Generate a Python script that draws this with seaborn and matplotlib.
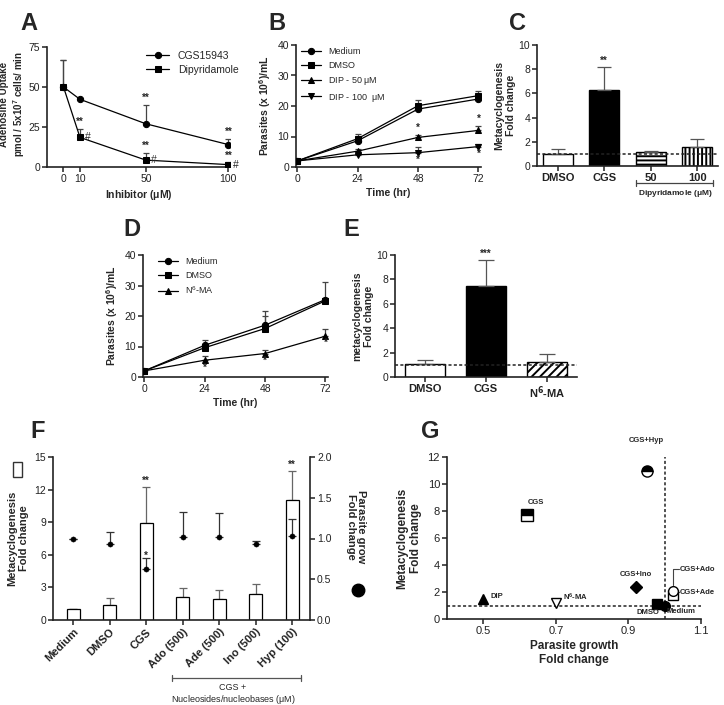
import numpy as np
import pandas as pd
import matplotlib.pyplot as plt
import seaborn as sns

# ---- data ----
# A : adenosine uptake
a_conc = [0, 10, 50, 100]
a_cgs = [50, 42.3, 27, 14]
a_cgs_sem = [17, 0, 12, 3.7]
a_dip = [50, 18.5, 4.3, 1.5]
a_dip_sem = [17, 5.5, 4.5, 1.5]

# B : growth with dipyridamole
b_time = [0, 24, 48, 72]
b_medium = [2, 8.6, 19.0, 22.3]
b_medium_sem = [0.3, 1.2, 1.0, 1.0]
b_dmso = [2, 9.3, 20.1, 23.4]
b_dmso_sem = [0.3, 1.5, 2.0, 1.6]
b_dip50 = [2, 5.2, 9.7, 12.0]
b_dip50_sem = [0.3, 0.6, 0.8, 1.5]
b_dip100 = [2, 4.0, 4.7, 6.7]
b_dip100_sem = [0.3, 0.5, 1.8, 0.8]

# C : metacyclogenesis with dipyridamole
c_cats = ["DMSO", "CGS", "50", "100"]
c_vals = [1.0, 6.3, 1.15, 1.55]
c_sem = [0.4, 1.9, 0.1, 0.65]

# D : growth with N6-MA
d_time = [0, 24, 48, 72]
d_medium = [2, 10.4, 17.0, 25.4]
d_medium_sem = [0.3, 1.6, 4.8, 5.6]
d_dmso = [2, 9.6, 15.9, 25.0]
d_dmso_sem = [0.3, 1.2, 4.1, 1.0]
d_n6 = [2, 5.5, 7.7, 13.4]
d_n6_sem = [0.3, 1.3, 1.3, 2.5]

# E : metacyclogenesis with N6-MA
e_cats = ["DMSO", "CGS", "N$^{\\mathbf{6}}$-MA"]
e_vals = [1.05, 7.45, 1.2]
e_sem = [0.35, 2.1, 0.7]

# F : rescue by nucleosides / nucleobases
f_cats = ["Medium", "DMSO", "CGS", "Ado (500)", "Ade (500)", "Ino (500)", "Hyp (100)"]
f_meta = [1.0, 1.34, 8.9, 2.08, 1.93, 2.36, 11.05]
f_meta_sem = [0, 0.7, 3.35, 0.9, 0.87, 0.96, 2.7]
f_growth = [1.0, 0.93, 0.62, 1.02, 1.02, 0.93, 1.03]
f_growth_sem = [0, 0.15, 0.14, 0.31, 0.29, 0.045, 0.21]

# G : growth vs metacyclogenesis
g_names = ["CGS+Hyp", "CGS", "CGS+Ino", "DIP", "N$^6$-MA", "DMSO", "Medium", "CGS+Ado", "CGS+Ade"]
g_growth = [0.95, 0.62, 0.92, 0.50, 0.70, 0.98, 1.00, 1.024, 1.024]
g_meta = [11.0, 7.7, 2.35, 1.5, 1.2, 1.08, 1.0, 1.75, 2.07]

# ---- style ----
sns.set_style("ticks")
plt.rcParams['font.family'] = ['Liberation Sans', 'DejaVu Sans']
plt.rcParams['hatch.linewidth'] = 1.4
plt.rcParams['axes.linewidth'] = 1.2
plt.rcParams['axes.edgecolor'] = '#222222'
plt.rcParams['mathtext.default'] = 'regular'

W, H = 724, 705
fig = plt.figure(figsize=(W / 100, H / 100), dpi=100)


def add_ax(l, t, r, b):
    return fig.add_axes([l / W, 1 - b / H, (r - l) / W, (b - t) / H])


def style(ax, size=7.5):
    sns.despine(ax=ax)
    ax.tick_params(length=3.5, width=1.1, labelsize=size, colors='#222222', pad=1.5)


def err_up(ax, x, y, sem, cap=2.5, color='#444444'):
    ax.errorbar(x, y, yerr=[np.zeros(len(sem)), sem], fmt='none', ecolor=color,
                elinewidth=0.9, capsize=cap, capthick=0.9, zorder=1)


def line(ax, x, y, marker, label, ms=4.5):
    sns.lineplot(x=x, y=y, ax=ax, color='black', lw=0.9, marker=marker, ms=ms,
                 mec='black', mfc='black', label=label, zorder=3)


def letter(x, y, s):
    fig.text(x / W, 1 - y / H, s, fontsize=17, fontweight='bold', va='top', ha='left')


def star(ax, x, y, s):
    ax.text(x, y, s, ha='center', va='bottom', fontsize=7, fontweight='bold')


bold = dict(fontweight='bold')

# ---- A ----
ax = add_ax(47, 47, 230, 167)
err_up(ax, a_conc, a_cgs, a_cgs_sem)
err_up(ax, a_conc, a_dip, a_dip_sem)
line(ax, a_conc, a_cgs, 'o', 'CGS15943')
line(ax, a_conc, a_dip, 's', 'Dipyridamole')
ax.set_xlim(-10, 101)
ax.set_ylim(0, 75)
ax.set_xticks([0, 10, 50, 100])
ax.set_yticks([0, 25, 50, 75])
style(ax)
ax.set_xlabel("Inhibitor ($\\mu$M)", fontsize=7.5, labelpad=3, **bold)
fig.text(13 / W, 1 - 104 / H, "Adenosine Uptake\npmol / 5x10$^7$ cells/ min", fontsize=7,
         rotation=90, ha='center', va='center', linespacing=1.15, **bold)
ax.legend(frameon=False, fontsize=7.5, loc='upper right', bbox_to_anchor=(1.08, 1.02),
          handlelength=2.2, labelspacing=0.4, borderaxespad=0.2)
for x, y, s in zip(a_conc[2:], a_cgs[2:], a_cgs_sem[2:]):
    star(ax, x, y + s + 1.0, "**")
for x, y, s in zip(a_conc[1:], a_dip[1:], a_dip_sem[1:]):
    star(ax, x, y + s + 1.0, "**")
    ax.text(x + 3, y, "#", ha='left', va='center', fontsize=7.5)

# ---- B ----
ax = add_ax(296, 45, 481, 167)
for v, s in [(b_medium, b_medium_sem), (b_dmso, b_dmso_sem), (b_dip50, b_dip50_sem), (b_dip100, b_dip100_sem)]:
    err_up(ax, b_time, v, s, cap=2)
line(ax, b_time, b_medium, 'o', 'Medium')
line(ax, b_time, b_dmso, 's', 'DMSO')
line(ax, b_time, b_dip50, '^', 'DIP - 50 $\\mu$M')
line(ax, b_time, b_dip100, 'v', 'DIP - 100  $\\mu$M')
ax.set_xlim(-0.5, 73)
ax.set_ylim(0, 40)
ax.set_xticks(b_time)
ax.set_yticks([0, 10, 20, 30, 40])
style(ax)
ax.set_xlabel("Time (hr)", fontsize=7.5, labelpad=3, **bold)
ax.set_ylabel("Parasites (x 10$^6$)/mL", fontsize=7.5, labelpad=3, **bold)
ax.legend(frameon=False, fontsize=6.5, loc='upper left', bbox_to_anchor=(0.0, 1.03),
          handlelength=2.2, labelspacing=0.55, borderaxespad=0.2)
for x, y, s in zip(b_time[2:], b_dip50[2:], b_dip50_sem[2:]):
    star(ax, x, y + s + 0.6, "*")
for x, y in zip(b_time[2:], b_dip100[2:]):
    star(ax, x, y - 4.0, "*")

# ---- C ----
ax = add_ax(537, 45, 718, 166)
sns.barplot(x=c_cats, y=c_vals, hue=c_cats, palette=['white', 'black', 'white', 'white'],
            legend=False, saturation=1, width=0.65, edgecolor='black', linewidth=1, ax=ax)
for p, h in zip(ax.patches, ['', '', '----', '||||']):
    p.set_hatch(h)
err_up(ax, range(4), c_vals, c_sem, cap=5, color='#555555')
ax.axhline(1, color='#222222', ls=(0, (2, 1.5)), lw=1.1, zorder=5)
ax.set_xlim(-0.45, 3.45)
ax.set_ylim(0, 10)
ax.set_yticks([0, 2, 4, 6, 8, 10])
style(ax)
ax.tick_params(axis='x', labelsize=8)
for t in ax.get_xticklabels():
    t.set_fontweight('bold')
ax.set_ylabel("Metacyclogenesis\nFold change", fontsize=7.5, labelpad=2, **bold)
star(ax, 1, c_vals[1] + c_sem[1] + 0.1, "**")
y0 = 1 - 183 / H
fig.add_artist(plt.Line2D([636 / W, 713 / W], [y0, y0], color='#444444', lw=0.9))
for xb in (636, 713):
    fig.add_artist(plt.Line2D([xb / W, xb / W], [y0 - 3 / H, y0 + 3 / H], color='#444444', lw=0.9))
fig.text(675 / W, 1 - 193 / H, "Dipyridamole ($\\mu$M)", fontsize=6, ha='center', va='center', **bold)

# ---- D ----
ax = add_ax(143, 255, 328, 377)
for v, s in [(d_medium, d_medium_sem), (d_dmso, d_dmso_sem), (d_n6, d_n6_sem)]:
    err_up(ax, d_time, v, s, cap=2)
line(ax, d_time, d_medium, 'o', 'Medium')
line(ax, d_time, d_dmso, 's', 'DMSO')
line(ax, d_time, d_n6, '^', 'N$^6$-MA')
ax.set_xlim(-0.5, 73)
ax.set_ylim(0, 40)
ax.set_xticks(d_time)
ax.set_yticks([0, 10, 20, 30, 40])
style(ax)
ax.set_xlabel("Time (hr)", fontsize=7.5, labelpad=3, **bold)
ax.set_ylabel("Parasites (x 10$^6$)/mL", fontsize=7.5, labelpad=3, **bold)
ax.legend(frameon=False, fontsize=6.5, loc='upper left', bbox_to_anchor=(0.05, 1.03),
          handlelength=2.2, labelspacing=0.55, borderaxespad=0.2)
for x, y in zip(d_time[1:], d_n6[1:]):
    star(ax, x, y - 4.0, "*")

# ---- E ----
ax = add_ax(395, 255, 577, 377)
sns.barplot(x=e_cats, y=e_vals, hue=e_cats, palette=['white', 'black', 'white'],
            legend=False, saturation=1, width=0.66, edgecolor='black', linewidth=1, ax=ax)
for p, h in zip(ax.patches, ['', '', '////']):
    p.set_hatch(h)
err_up(ax, range(3), e_vals, e_sem, cap=6, color='#555555')
ax.axhline(1, color='#222222', ls=(0, (2, 1.5)), lw=1.1, zorder=5)
ax.set_xlim(-0.49, 2.49)
ax.set_ylim(0, 10)
ax.set_yticks([0, 2, 4, 6, 8, 10])
style(ax)
ax.tick_params(axis='x', labelsize=8)
for t in ax.get_xticklabels():
    t.set_fontweight('bold')
ax.set_ylabel("metacyclogenesis\nFold change", fontsize=7.5, labelpad=2, **bold)
star(ax, 1, e_vals[1] + e_sem[1] + 0.1, "***")

# ---- F ----
ax = add_ax(53, 457, 310, 620)
xs = np.arange(len(f_cats))
err_up(ax, xs, f_meta, f_meta_sem, cap=3, color='#666666')
sns.barplot(x=f_cats, y=f_meta, color='white', saturation=1, width=0.36,
            edgecolor='black', linewidth=0.9, ax=ax)
ax.set_xlim(-0.55, 6.49)
ax.set_ylim(0, 15)
ax.set_yticks([0, 3, 6, 9, 12, 15])
style(ax)
ax.tick_params(axis='x', labelsize=8)
plt.setp(ax.get_xticklabels(), rotation=45, ha='right', rotation_mode='anchor', fontweight='bold')
ax.set_ylabel("Metacyclogenesis\nFold change", fontsize=8, labelpad=4, **bold)
for i in (2, 6):
    star(ax, i, f_meta[i] + f_meta_sem[i] + 0.1, "**")

ax2 = ax.twinx()
err_up(ax2, xs, f_growth, f_growth_sem, cap=3, color='#333333')
sns.scatterplot(x=xs, y=f_growth, color='black', s=14, edgecolor='black', ax=ax2, zorder=4)
ax2.set_ylim(0, 2)
ax2.set_yticks([0, 0.5, 1.0, 1.5, 2.0])
ax2.set_yticklabels(['0.0', '0.5', '1.0', '1.5', '2.0'])
for sp in ('top', 'left', 'bottom'):
    ax2.spines[sp].set_visible(False)
ax2.tick_params(length=3.5, width=1.1, labelsize=7.5, colors='#222222', pad=1.5)
star(ax2, 2, f_growth[2] + f_growth_sem[2] - 0.03, "*")
fig.text(356 / W, 1 - 527 / H, "Parasite grow\nFold change", fontsize=8, rotation=270,
         ha='center', va='center', linespacing=1.1, **bold)
fig.patches.append(plt.Rectangle((13 / W, 1 - 477 / H), 9 / W, 15 / H, transform=fig.transFigure,
                                 fill=False, edgecolor='#333333', lw=1))
fig.add_artist(plt.Line2D([358 / W], [1 - 590 / H], marker='o', ms=9, color='black'))
y0 = 1 - 678 / H
fig.add_artist(plt.Line2D([172 / W, 301 / W], [y0, y0], color='#555555', lw=0.9))
for xb in (172, 301):
    fig.add_artist(plt.Line2D([xb / W, xb / W], [y0 - 3 / H, y0 + 3 / H], color='#555555', lw=0.9))
fig.text(233 / W, 1 - 688 / H, "CGS +", fontsize=6.5, ha='center', va='center')
fig.text(233 / W, 1 - 699 / H, "Nucleosides/nucleobases ($\\mu$M)", fontsize=6.5, ha='center', va='center')

# ---- G ----
ax = add_ax(447, 457, 701, 619)
g_style = {
    "CGS+Hyp": dict(marker='o', fillstyle='top', mfc='black', mfcalt='white', ms=8),
    "CGS": dict(marker='s', fillstyle='top', mfc='black', mfcalt='white', ms=8),
    "CGS+Ino": dict(marker='D', mfc='black', ms=6),
    "DIP": dict(marker='^', mfc='black', ms=6.5),
    "N$^6$-MA": dict(marker='v', mfc='white', ms=7),
    "DMSO": dict(marker='s', mfc='black', ms=7),
    "Medium": dict(marker='o', mfc='black', ms=7),
    "CGS+Ado": dict(marker='s', mfc='white', ms=6.5),
    "CGS+Ade": dict(marker='o', mfc='white', ms=7),
}
ax.axhline(1, color='#222222', ls=(0, (2, 1.5)), lw=1.1, zorder=1)
ax.axvline(1, color='#222222', ls=(0, (2, 1.5)), lw=1.1, zorder=1, ymax=1.0)
for n, x, y in zip(g_names, g_growth, g_meta):
    ax.plot([x], [y], ls='none', mec='black', mew=1, zorder=3, **g_style[n])
ax.set_xlim(0.4, 1.1)
ax.set_ylim(0, 12)
ax.set_xticks([0.5, 0.7, 0.9, 1.1])
ax.set_yticks([0, 2, 4, 6, 8, 10, 12])
style(ax, size=8)
ax.set_xlabel("Parasite growth\nFold change", fontsize=8.5, labelpad=3, **bold)
ax.set_ylabel("Metacyclogenesis\nFold change", fontsize=8.5, labelpad=4, **bold)
lab = dict(fontsize=5.5, fontweight='bold', clip_on=False)
ax.text(0.95, 13.2, "CGS+Hyp", ha='center', va='center', **lab)
ax.text(0.645, 8.6, "CGS", ha='center', va='center', **lab)
ax.text(0.92, 3.3, "CGS+Ino", ha='center', va='center', **lab)
ax.text(0.52, 1.7, "DIP", ha='left', va='center', **lab)
ax.text(0.72, 1.6, "N$^6$-MA", ha='left', va='center', **lab)
ax.text(0.955, 0.5, "DMSO", ha='center', va='center', **lab)
ax.text(1.005, 0.55, "Medium", ha='left', va='center', **lab)
ax.plot([1.024, 1.024, 1.04], [2.5, 3.7, 3.7], color='#444444', lw=0.8, clip_on=False)
ax.text(1.041, 3.7, "CGS+Ado", ha='left', va='center', **lab)
ax.plot([1.035, 1.04], [2.0, 2.0], color='#444444', lw=0.8, clip_on=False)
ax.text(1.041, 2.0, "CGS+Ade", ha='left', va='center', **lab)

# ---- panel letters ----
letter(20, 12, "A")
letter(268, 12, "B")
letter(509, 12, "C")
letter(123, 218, "D")
letter(343, 218, "E")
letter(30, 420, "F")
letter(421, 420, "G")

fig.savefig("out.png", dpi=100)
